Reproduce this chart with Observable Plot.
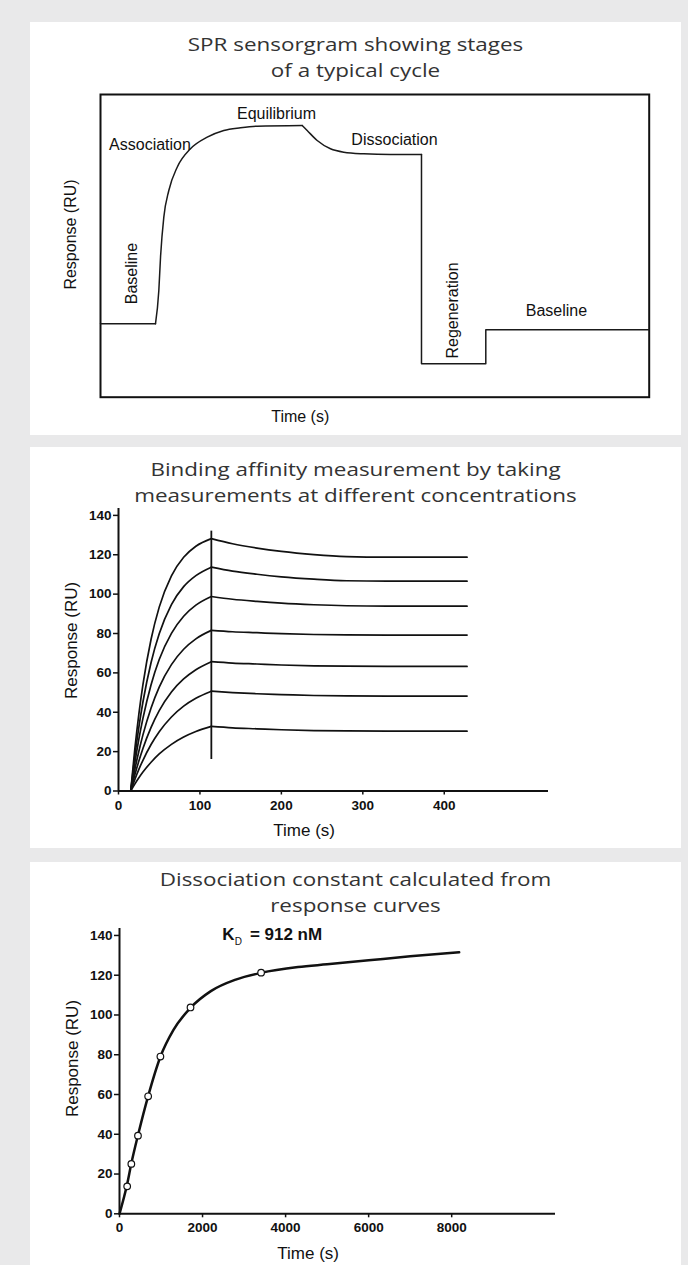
<!DOCTYPE html>
<html><head><meta charset="utf-8">
<script src="https://cdn.jsdelivr.net/npm/d3@7"></script>
<script src="https://cdn.jsdelivr.net/npm/@observablehq/plot@0.6"></script>
<style>
html,body{margin:0;padding:0;background:#e9e9ea;}
body{width:688px;height:1265px;position:relative;overflow:hidden;}
.card{position:absolute;left:30px;width:651px;background:#fff;}
.tl{position:absolute;left:0;width:651px;height:26px;text-align:center;font-family:"Open Sans",sans-serif;font-size:19px;line-height:26px;color:#333;transform:scaleX(1.18);transform-origin:center;white-space:nowrap;}
.chart{position:absolute;left:0;}
</style></head>
<body>
<div class="card" style="top:22px;height:413px">
  <div class="tl" style="top:8.5px">SPR sensorgram showing stages</div>
  <div class="tl" style="top:34.5px">of a typical cycle</div>
  <div class="chart" id="c1" style="top:62px"></div></div>
<div class="card" style="top:447px;height:401px">
  <div class="tl" style="top:8.5px">Binding affinity measurement by taking</div>
  <div class="tl" style="top:34.5px">measurements at different concentrations</div>
  <div class="chart" id="c2" style="top:51px"></div></div>
<div class="card" style="top:862px;height:410px">
  <div class="tl" style="top:4px">Dissociation constant calculated from</div>
  <div class="tl" style="top:30px">response curves</div>
  <div class="chart" id="c3" style="top:56px"></div></div>
<script>
// ---------- Panel 1: sensorgram stages (arbitrary units 0-100) ----------
const baselineTime = [0, 10.02];
const baselineResp = [24.25, 24.25];
const associationTime = [10.02, 10.63, 10.94, 11.54, 12.45, 13.98, 16.40, 19.45, 22.47, 25.52, 28.56, 36.76];
const associationResp = [24.25, 35.25, 46.25, 59.47, 68.29, 75.98, 82.06, 85.89, 88.11, 89.0, 89.53, 89.76];
const dissociationTime = [36.76, 37.67, 39.49, 41.91, 44.34, 47.99, 52.85, 58.5];
const dissociationResp = [89.76, 88.1, 84.8, 82.06, 80.94, 80.41, 80.18, 80.18];
const regenerationTime = [58.5, 58.5, 70.22, 70.22, 100];
const regenerationResp = [80.18, 11.03, 11.03, 22.27, 22.27];
const uprightStages = ["Association", "Equilibrium", "Dissociation", "Baseline"];
const uprightStageX = [9.02, 32.08, 53.58, 83.1];
const uprightStageY = [83.2, 93.7, 85.0, 28.64];
const verticalStages = ["Baseline", "Regeneration"];
const verticalStageX = [5.77, 64.28];
const verticalStageY = [40.86, 28.64];

// ---------- Panel 2: concentration series ----------
const assocTimes = [15, 20, 25, 30, 40, 50, 65, 80, 95, 114];
const dissocTimes = [114, 140, 170, 200, 240, 280, 330, 428];
const assocResponse = [
  [0, 21.2, 39.1, 54.0, 77.1, 93.4, 109.3, 118.7, 124.3, 128.2],
  [0, 17.5, 32.5, 45.2, 65.3, 79.9, 94.7, 103.8, 109.4, 113.7],
  [0, 14.1, 26.4, 36.9, 54.0, 66.8, 80.1, 88.8, 94.4, 98.8],
  [0, 10.8, 20.2, 28.5, 42.2, 52.8, 64.2, 72.0, 77.3, 81.6],
  [0, 8.1, 15.2, 21.6, 32.3, 40.8, 50.3, 56.9, 61.6, 65.7],
  [0, 5.8, 11.0, 15.6, 23.6, 30.1, 37.6, 43.1, 47.1, 50.7],
  [0, 3.5, 6.7, 9.6, 14.6, 18.8, 23.7, 27.4, 30.2, 32.8]
];
const dissocResponse = [
  [128.2, 125.6, 123.4, 121.7, 120.1, 119.1, 118.8, 118.8],
  [113.7, 111.7, 110.1, 108.8, 107.6, 106.8, 106.6, 106.6],
  [98.8, 97.4, 96.3, 95.4, 94.6, 94.1, 93.9, 93.9],
  [81.6, 80.9, 80.4, 79.9, 79.5, 79.3, 79.2, 79.2],
  [65.7, 65.0, 64.5, 64.0, 63.6, 63.4, 63.3, 63.3],
  [50.7, 50.0, 49.4, 49.0, 48.5, 48.3, 48.2, 48.2],
  [32.8, 32.1, 31.6, 31.1, 30.7, 30.5, 30.4, 30.4]
];
const injectionEnd = [114];
const injectionMarkerSpan = [16, 132];
const xTicks2 = [0, 100, 200, 300, 400];
const yTicks = [0, 20, 40, 60, 80, 100, 120, 140];

// ---------- Panel 3: steady-state fit ----------
const pointTimes = [185, 285, 445, 690, 985, 1710, 3410];
const pointResponse = [13.8, 25.1, 39.3, 59.1, 79.1, 103.8, 121.3];
const fitTimes = [0, 185, 285, 445, 690, 985, 1300, 1710, 2200, 2800, 3410, 4300, 5000, 6000, 7000, 8180];
const fitResponse = [0, 15, 25.3, 39.5, 59.2, 79.0, 92.5, 103.6, 112, 117.8, 121.2, 124.1, 125.5, 127.5, 129.5, 131.5];
const xTicks3 = [0, 2000, 4000, 6000, 8000];
const kdValue = "= 912 nM";

const font = "'Liberation Sans', Arial, Helvetica, sans-serif";
const ink = "#111";

// ---- Panel 1 ----
const seg = (name, xs, ys) => xs.map((x, i) => ({phase: name, t: x, r: ys[i]}));
const smoothParts = [...seg("association", associationTime, associationResp), ...seg("dissociation", dissociationTime, dissociationResp)];
const stepParts = [...seg("baseline", baselineTime, baselineResp), ...seg("regeneration", regenerationTime, regenerationResp)];
const upright = uprightStages.map((s, i) => ({s, x: uprightStageX[i], y: uprightStageY[i]}));
const vertical = verticalStages.map((s, i) => ({s, x: verticalStageX[i], y: verticalStageY[i]}));

const p1 = Plot.plot({
  width: 651, height: 346,
  marginLeft: 70, marginRight: 32.3, marginTop: 10, marginBottom: 33.3,
  x: {domain: [0, 100], axis: null},
  y: {domain: [0, 100], axis: null},
  style: {fontFamily: font, color: ink, background: "transparent", overflow: "visible"},
  marks: [
    Plot.frame({stroke: ink, strokeWidth: 2}),
    Plot.line(smoothParts, {x: "t", y: "r", z: "phase", curve: "monotone-x", stroke: "#1a1a1a", strokeWidth: 1.5}),
    Plot.line(stepParts, {x: "t", y: "r", z: "phase", stroke: "#1a1a1a", strokeWidth: 1.5}),
    Plot.text(upright, {x: "x", y: "y", text: "s", fontSize: 16, fill: ink}),
    Plot.text(vertical, {x: "x", y: "y", text: "s", rotate: -90, fontSize: 16, fill: ink}),
    Plot.text(["Time (s)"], {x: 36.4, frameAnchor: "bottom", lineAnchor: "middle", textAnchor: "middle", dy: 20, fontSize: 16, fill: ink}),
    Plot.text(["Response (RU)"], {y: 53.75, frameAnchor: "left", textAnchor: "middle", lineAnchor: "middle", dx: -30, rotate: -90, fontSize: 16, fill: ink})
  ]
});
document.getElementById("c1").appendChild(p1);

// ---- Panel 2 ----
const kinetics = [];
assocResponse.forEach((vals, c) => vals.forEach((v, i) => kinetics.push({z: "a" + c, t: assocTimes[i], r: v})));
dissocResponse.forEach((vals, c) => vals.forEach((v, i) => kinetics.push({z: "d" + c, t: dissocTimes[i], r: v})));

const p2 = Plot.plot({
  width: 651, height: 348,
  marginLeft: 88, marginRight: 133, marginTop: 10, marginBottom: 55.5,
  x: {domain: [0, 528], axis: null},
  y: {domain: [0, 143.5], axis: null},
  style: {fontFamily: font, color: ink, background: "transparent", overflow: "visible"},
  marks: [
    Plot.line(kinetics, {x: "t", y: "r", z: "z", curve: "monotone-x", stroke: ink, strokeWidth: 1.7}),
    Plot.ruleX(injectionEnd, {y1: injectionMarkerSpan[0], y2: injectionMarkerSpan[1], stroke: ink, strokeWidth: 1.8}),
    Plot.ruleY([0], {stroke: ink, strokeWidth: 2}),
    Plot.ruleX([0], {stroke: ink, strokeWidth: 2}),
    Plot.axisX({ticks: xTicks2, tickFormat: d => String(d), tickSize: 4, tickPadding: 5, fontSize: 13.5, fontWeight: "bold", strokeWidth: 1.5, label: null}),
    Plot.axisY({ticks: yTicks, tickFormat: d => String(d), tickSize: 5, tickPadding: 2, fontSize: 13.5, fontWeight: "bold", strokeWidth: 1.5, label: null}),
    Plot.text(["Time (s)"], {x: 228, frameAnchor: "bottom", lineAnchor: "middle", textAnchor: "middle", dy: 39.5, fontSize: 17, fill: ink}),
    Plot.text(["Response (RU)"], {y: 76.5, frameAnchor: "left", textAnchor: "middle", lineAnchor: "middle", dx: -47, rotate: -90, fontSize: 17, fill: ink})
  ]
});
document.getElementById("c2").appendChild(p2);

// ---- Panel 3 ----
const fit = fitTimes.map((t, i) => ({t, r: fitResponse[i]}));
const pts = pointTimes.map((t, i) => ({t, r: pointResponse[i]}));

const p3 = Plot.plot({
  width: 651, height: 347,
  marginLeft: 89, marginRight: 126, marginTop: 10, marginBottom: 51.7,
  x: {domain: [0, 10500], axis: null},
  y: {domain: [0, 143.5], axis: null},
  style: {fontFamily: font, color: ink, background: "transparent", overflow: "visible"},
  marks: [
    Plot.line(fit, {x: "t", y: "r", curve: "monotone-x", stroke: ink, strokeWidth: 2.5}),
    Plot.dot(pts, {x: "t", y: "r", r: 3.3, fill: "#fff", stroke: ink, strokeWidth: 1.2}),
    Plot.ruleY([0], {stroke: ink, strokeWidth: 2}),
    Plot.ruleX([0], {stroke: ink, strokeWidth: 2}),
    Plot.axisX({ticks: xTicks3, tickFormat: d => String(d), tickSize: 4, tickPadding: 5, fontSize: 13.5, fontWeight: "bold", strokeWidth: 1.5, label: null}),
    Plot.axisY({ticks: yTicks, tickFormat: d => String(d), tickSize: 5, tickPadding: 2, fontSize: 13.5, fontWeight: "bold", strokeWidth: 1.5, label: null}),
    Plot.text(["K"], {x: 2475, y: 140.4, textAnchor: "start", fontSize: 17, fontWeight: "bold", fill: ink}),
    Plot.text(["D"], {x: 2778, y: 136.7, textAnchor: "start", fontSize: 10, fill: ink}),
    Plot.text([kdValue], {x: 3140, y: 140.4, textAnchor: "start", fontSize: 17, fontWeight: "bold", fill: ink}),
    Plot.text(["Time (s)"], {x: 4542, frameAnchor: "bottom", lineAnchor: "middle", textAnchor: "middle", dy: 39.4, fontSize: 17, fill: ink}),
    Plot.text(["Response (RU)"], {y: 78.1, frameAnchor: "left", textAnchor: "middle", lineAnchor: "middle", dx: -47, rotate: -90, fontSize: 17, fill: ink})
  ]
});
document.getElementById("c3").appendChild(p3);
</script>
</body></html>
